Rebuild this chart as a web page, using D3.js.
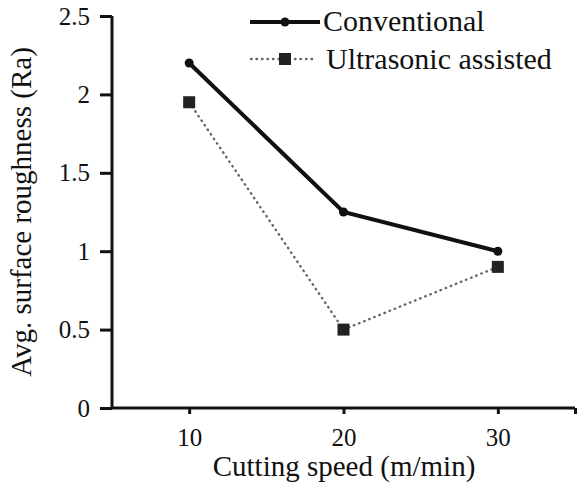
<!DOCTYPE html>
<html><head><meta charset="utf-8">
<script src="https://cdn.jsdelivr.net/npm/d3@7"></script>
<style>body{margin:0;background:#fff}svg text{font-family:"Liberation Serif","Times New Roman",serif !important;fill:#111}</style>
</head><body><svg id="c" width="577" height="488"></svg>
<script>
const speeds = [10, 20, 30];
const conventional = [2.2, 1.25, 1.0];
const ultrasonic = [1.95, 0.5, 0.9];
const yTicks = [0, 0.5, 1, 1.5, 2, 2.5];
const xTicks = [10, 20, 30];
const seriesNames = ["Conventional", "Ultrasonic assisted"];

const svg = d3.select("#c");
const x = d3.scaleLinear().domain([5, 35]).range([112, 575]);
const y = d3.scaleLinear().domain([0, 2.5]).range([408, 16]);

// y axis
const ya = svg.append("g").attr("transform", "translate(112,0)")
  .call(d3.axisLeft(y).tickValues(yTicks).tickSize(12).tickPadding(10).tickFormat(d => d));
ya.attr("font-family", "Liberation Serif").attr("font-size", 25);
ya.select(".domain").attr("stroke-width", 3).attr("stroke", "#111").attr("d", `M0,${y(2.5)}V${y(0)}`);
ya.selectAll(".tick line").attr("stroke-width", 3).attr("stroke", "#111");

// x axis
const xa = svg.append("g").attr("transform", "translate(0,408)")
  .call(d3.axisBottom(x).tickValues(xTicks.concat([35])).tickSize(6).tickPadding(14).tickFormat(d => d === 35 ? "" : d));
xa.attr("font-family", "Liberation Serif").attr("font-size", 25);
xa.select(".domain").attr("stroke-width", 3).attr("stroke", "#111").attr("d", `M${x(5)},0H${x(35)}`);
xa.selectAll(".tick line").attr("stroke-width", 3).attr("stroke", "#111");

svg.append("text").attr("x", 344).attr("y", 476).attr("text-anchor", "middle")
  .style("font-size", "29px").text("Cutting speed (m/min)");
svg.append("text").attr("transform", "translate(31,212) rotate(-90)").attr("text-anchor", "middle")
  .style("font-size", "29px").text("Avg. surface roughness (Ra)");

const line = d3.line().x((d, i) => x(speeds[i])).y(d => y(d));

svg.append("path").datum(ultrasonic).attr("d", line).attr("fill", "none")
  .attr("stroke", "#666").attr("stroke-width", 2.4).attr("stroke-dasharray", "0.5,5").attr("stroke-linecap", "round");
svg.append("path").datum(conventional).attr("d", line).attr("fill", "none")
  .attr("stroke", "#111").attr("stroke-width", 4);

svg.selectAll(".cm").data(conventional).join("circle")
  .attr("cx", (d, i) => x(speeds[i])).attr("cy", d => y(d)).attr("r", 4.5).attr("fill", "#111");
svg.selectAll(".um").data(ultrasonic).join("rect")
  .attr("x", (d, i) => x(speeds[i]) - 6).attr("y", d => y(d) - 6).attr("width", 12).attr("height", 12).attr("fill", "#222");

// legend
const lg = svg.append("g");
lg.append("line").attr("x1", 250).attr("x2", 320).attr("y1", 22).attr("y2", 22).attr("stroke", "#111").attr("stroke-width", 4);
lg.append("circle").attr("cx", 285).attr("cy", 22).attr("r", 4.5).attr("fill", "#111");
lg.append("text").attr("x", 323).attr("y", 31).style("font-size", "30px").text(seriesNames[0]);
lg.append("line").attr("x1", 251).attr("x2", 314).attr("y1", 59).attr("y2", 59).attr("stroke", "#666").attr("stroke-width", 2.4).attr("stroke-dasharray", "0.5,5").attr("stroke-linecap", "round");
lg.append("rect").attr("x", 279).attr("y", 53).attr("width", 12).attr("height", 12).attr("fill", "#222");
lg.append("text").attr("x", 326).attr("y", 69).style("font-size", "30px").text(seriesNames[1]);
</script></body></html>
